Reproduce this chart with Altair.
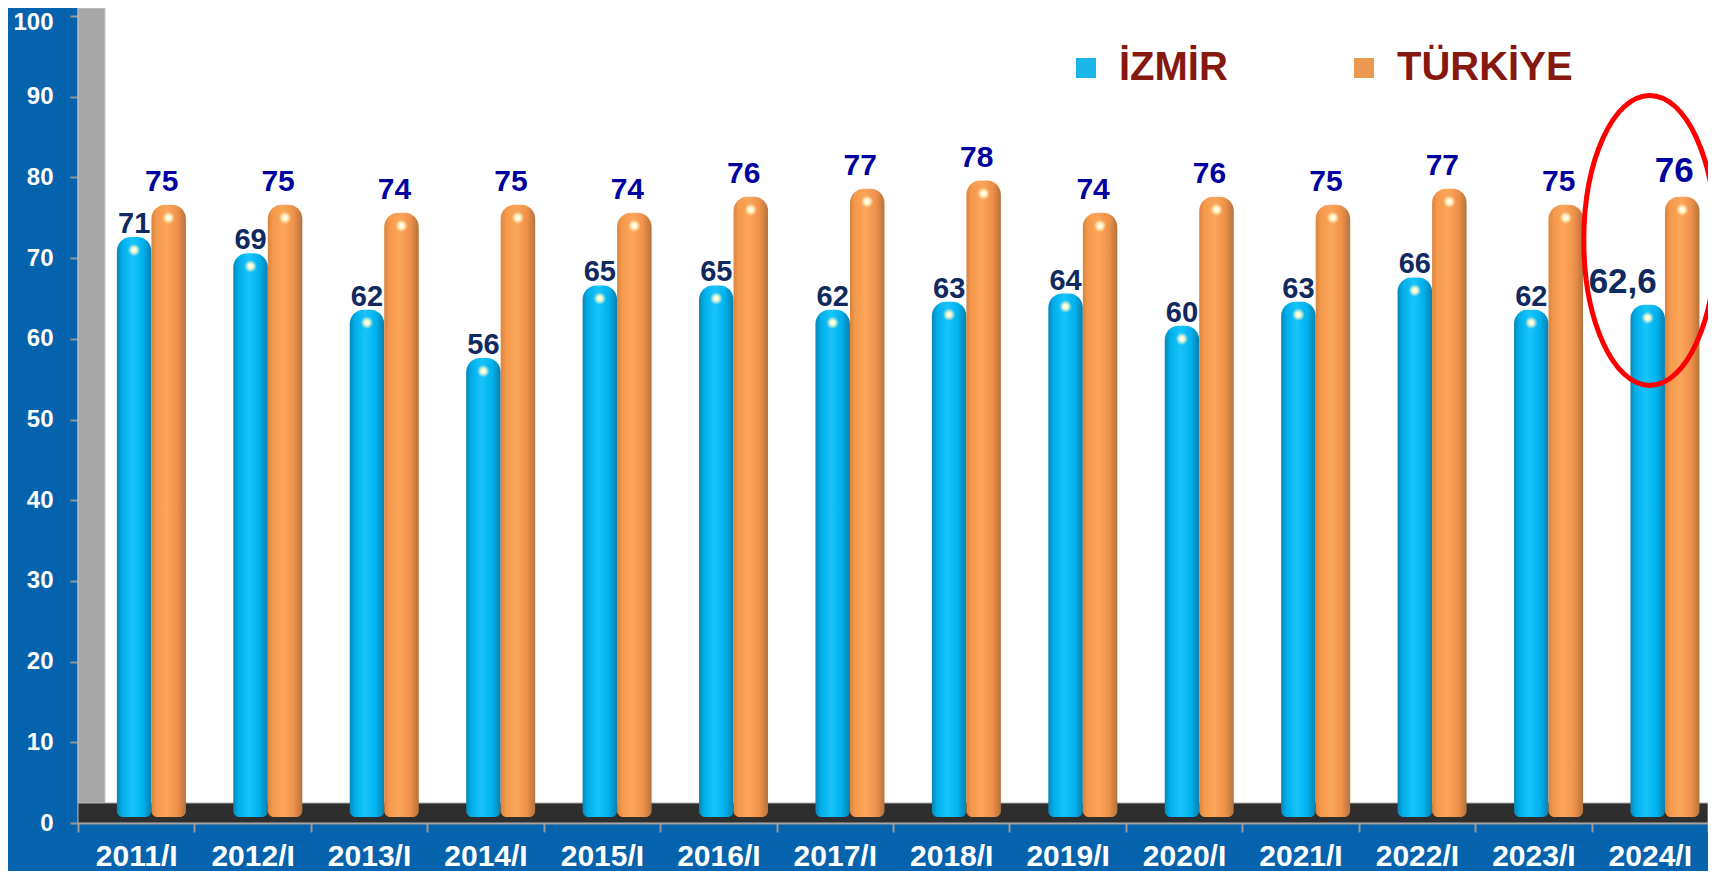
import altair as alt
import pandas as pd

periods = ["2011/I", "2012/I", "2013/I", "2014/I", "2015/I", "2016/I", "2017/I",
           "2018/I", "2019/I", "2020/I", "2021/I", "2022/I", "2023/I", "2024/I"]
izmir = [71, 69, 62, 56, 65, 65, 62, 63, 64, 60, 63, 66, 62, 62.6]
turkiye = [75, 75, 74, 75, 74, 76, 77, 78, 74, 76, 75, 77, 75, 76]
izmir_labels = ["71", "69", "62", "56", "65", "65", "62", "63", "64", "60", "63", "66", "62", "62,6"]
turkiye_labels = ["75", "75", "74", "75", "74", "76", "77", "78", "74", "76", "75", "77", "75", "76"]
series_names = ["İZMİR", "TÜRKİYE"]
highlight_period = "2024/I"
highlight_center = 72.2
floor_depth = 2.48
y_top = 101

rows = []
for i, p in enumerate(periods):
    rows.append({"period": p, "series": series_names[0], "value": izmir[i], "label": izmir_labels[i]})
    rows.append({"period": p, "series": series_names[1], "value": turkiye[i], "label": turkiye_labels[i]})
df = pd.DataFrame(rows)

W, H = 1630, 815
FONT = "Liberation Sans"
BG = "#0563ad"

x_enc = alt.X("period:N", sort=periods,
              scale=alt.Scale(domain=periods, paddingInner=0, paddingOuter=0),
              axis=alt.Axis(title=None, labelAngle=0, labelColor="white", labelFontSize=30,
                            labelFont=FONT, labelFontWeight="bold", tickBand="extent",
                            tickSize=9, tickColor="#9a9a9a", tickWidth=2,
                            domainColor="#9a9a9a", domainWidth=2,
                            labelBaseline="alphabetic", labelPadding=33))
y_enc = alt.Y("value:Q", scale=alt.Scale(domain=[0, y_top], nice=False, zero=True),
              axis=alt.Axis(title=None, values=list(range(0, 101, 10)), labelColor="white",
                            labelFontSize=24, labelFont=FONT, labelFontWeight="bold",
                            tickSize=8, tickColor="#9a9a9a", tickWidth=2,
                            domainColor="#9a9a9a", domainWidth=2, grid=False,
                            labelPadding=17,
                            labelOffset={"condition": {"test": "datum.value == 100", "value": 6},
                                         "value": 0}))
xoff = alt.XOffset("series:N", sort=series_names,
                   scale=alt.Scale(domain=series_names, paddingInner=0, paddingOuter=0.687, align=0.82))

blue_grad = {"gradient": "linear", "x1": 0, "y1": 0, "x2": 1, "y2": 0,
             "stops": [{"offset": 0, "color": "#0a86b8"}, {"offset": 0.15, "color": "#00aee8"},
                       {"offset": 0.45, "color": "#19c4fc"}, {"offset": 0.75, "color": "#00b2ee"},
                       {"offset": 1, "color": "#0a7fae"}]}
orange_grad = {"gradient": "linear", "x1": 0, "y1": 0, "x2": 1, "y2": 0,
               "stops": [{"offset": 0, "color": "#d9843e"}, {"offset": 0.15, "color": "#f5994c"},
                         {"offset": 0.45, "color": "#fba65a"}, {"offset": 0.75, "color": "#f0914a"},
                         {"offset": 1, "color": "#b5743d"}]}
glow = {"gradient": "radial", "x1": 0.5, "y1": 0.5, "r1": 0, "x2": 0.5, "y2": 0.5, "r2": 0.5,
        "stops": [{"offset": 0, "color": "#ffffff"}, {"offset": 0.35, "color": "#fffbd0"},
                  {"offset": 1, "color": "rgba(255,250,200,0)"}]}

wall_df = pd.DataFrame({"value": [floor_depth], "value2": [y_top]})
floor_df = pd.DataFrame({"value": [0], "value2": [floor_depth]})

wall = alt.Chart(wall_df).mark_rect(fill="#a6a6a6", stroke="#c8c8c8", strokeWidth=1).encode(
    x=alt.value(0), x2=alt.value(27), y=y_enc, y2="value2:Q")
floor = alt.Chart(floor_df).mark_rect(fill="#2e2e2e", stroke="#b0b0b0", strokeWidth=1).encode(
    x=alt.value(0), x2=alt.value("width"), y=y_enc, y2="value2:Q")

bar_common = dict(cornerRadiusTopLeft=14, cornerRadiusTopRight=14,
                  cornerRadiusBottomLeft=6, cornerRadiusBottomRight=6,
                  yOffset=-13, y2Offset=-6)
bars_iz = alt.Chart(df).transform_filter(alt.datum.series == series_names[0]).mark_bar(
    fill=blue_grad, **bar_common).encode(x=x_enc, xOffset=xoff, y=y_enc, y2=alt.datum(0))
bars_tr = alt.Chart(df).transform_filter(alt.datum.series == series_names[1]).mark_bar(
    fill=orange_grad, **bar_common).encode(x=x_enc, xOffset=xoff, y=y_enc, y2=alt.datum(0))

shine = alt.Chart(df).mark_circle(fill=glow, size=160, opacity=1).encode(
    x=x_enc, xOffset=xoff, y=y_enc)

legend_layer = alt.Chart(df).mark_square(opacity=0).encode(
    x=x_enc, xOffset=xoff, y=y_enc,
    color=alt.Color("series:N", sort=series_names,
                    scale=alt.Scale(domain=series_names, range=["#1bb7ec", "#ec9a52"]),
                    legend=alt.Legend(title=None, orient="none", legendX=988, legendY=40,
                                      direction="horizontal", symbolType="square",
                                      symbolSize=400, symbolOpacity=1, symbolStrokeWidth=0,
                                      labelFontSize=40, labelFont=FONT, labelFontWeight="bold",
                                      labelColor="#86190f", labelOffset=13, columnPadding=116,
                                      padding=0, labelLimit=400)))

iz_norm = (alt.datum.series == series_names[0]) & (alt.datum.period != highlight_period)
tr_norm = (alt.datum.series == series_names[1]) & (alt.datum.period != highlight_period)
iz_hi = (alt.datum.series == series_names[0]) & (alt.datum.period == highlight_period)
tr_hi = (alt.datum.series == series_names[1]) & (alt.datum.period == highlight_period)

def labels(pred, color, size, dx, dy):
    return alt.Chart(df).transform_filter(pred).mark_text(
        font=FONT, fontWeight="bold", fontSize=size, color=color, dx=dx, dy=dy,
        baseline="alphabetic", align="center").encode(
        x=x_enc, xOffset=xoff, y=y_enc, text="label:N")

lab1 = labels(iz_norm, "#10295f", 29, 0, -17)
lab2 = labels(tr_norm, "#00009e", 30, -7, -27)
lab3 = labels(iz_hi, "#10295f", 35, -25, -25)
lab4 = labels(tr_hi, "#00009e", 35, -8, -28)

ann_df = pd.DataFrame({"period": [highlight_period], "value": [highlight_center]})
ellipse = alt.Chart(ann_df).mark_point(
    shape="M -0.455 0 A 0.455 1 0 1 0 0.455 0 A 0.455 1 0 1 0 -0.455 0 Z",
    size=84100, filled=False, stroke="#ff0000", strokeWidth=5, opacity=1).encode(
    x=x_enc, y=y_enc)

chart = alt.layer(wall, floor, bars_iz, bars_tr, shine, legend_layer,
                  lab1, lab2, lab3, lab4, ellipse).properties(
    width=W, height=H, background=BG,
    padding={"left": 70, "top": 0, "right": 0, "bottom": 48},
    autosize=alt.AutoSizeParams(type="none")
).configure_view(fill="white", strokeWidth=0)

chart.save("out.html", embed_options={"renderer": "svg", "actions": False})
